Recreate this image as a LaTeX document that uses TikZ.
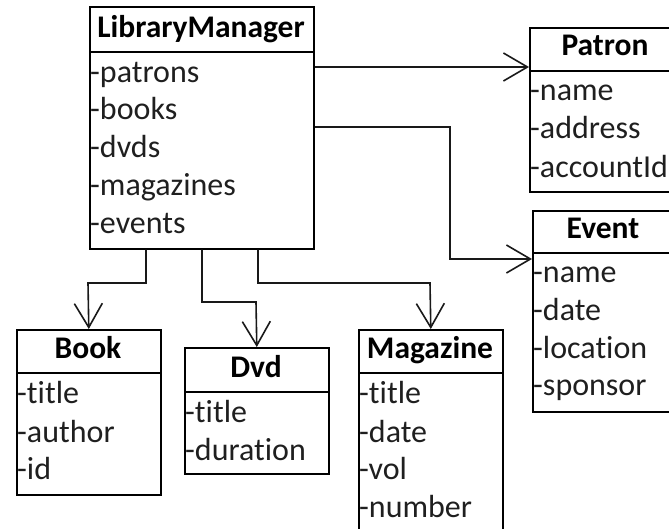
\documentclass[tikz,border=0pt]{standalone}
\usepackage{fontspec}
\setmainfont{Carlito}[Ligatures=NoCommon]
\usetikzlibrary{arrows.meta}

\begin{document}
\begin{tikzpicture}[x=1pt,y=-1pt,
    classbox/.style={draw=black, line width=1.6pt, inner sep=0pt, anchor=north west},
    headtext/.style={inner sep=0pt, anchor=base, font=\bfseries\fontsize{31.5}{38}\selectfont},
    attr/.style={inner sep=0pt, anchor=base west, text=black!88, font=\fontsize{32}{38}\selectfont},
    assoc/.style={draw=black!90, line width=1.6pt, -{Straight Barb[length=24pt,width=28pt,line width=1.6pt]}},
    sep/.style={draw=black, line width=1.6pt}]
  \useasboundingbox (0,0) rectangle (669,528);
  \clip (0,0) rectangle (669,528);

  % LibraryManager
  \node[classbox, minimum width=224pt, minimum height=242pt] (lm) at (89,6) {};
  \draw[sep] (lm.west |- 0,52) -- (lm.east |- 0,52);
  \node[headtext] (lmh) at (201,37) {LibraryManager};
  \node[attr] (lm1) at (90,82) {-patrons};
  \node[attr] (lm2) at (90,119.5) {-books};
  \node[attr] (lm3) at (90,157) {-dvds};
  \node[attr] (lm4) at (90,195) {-magazines};
  \node[attr] (lm5) at (90,233) {-events};

  % Patron
  \node[classbox, minimum width=152pt, minimum height=164pt] (patron) at (529,27) {};
  \draw[sep] (patron.west |- 0,71) -- (patron.east |- 0,71);
  \node[headtext] (ph) at (605,55) {Patron};
  \node[attr] (p1) at (530,100) {-name};
  \node[attr] (p2) at (530,138) {-address};
  \node[attr] (p3) at (530,177) {-accountId};

  % Event
  \node[classbox, minimum width=142pt, minimum height=201pt] (event) at (532,210) {};
  \draw[sep] (event.west |- 0,253) -- (event.east |- 0,253);
  \node[headtext] (eh) at (603,238) {Event};
  \node[attr] (e1) at (533,282) {-name};
  \node[attr] (e2) at (533,320) {-date};
  \node[attr] (e3) at (533,358) {-location};
  \node[attr] (e4) at (533,395) {-sponsor};

  % Book
  \node[classbox, minimum width=144pt, minimum height=165pt] (book) at (16,329) {};
  \draw[sep] (book.west |- 0,373) -- (book.east |- 0,373);
  \node[headtext] (bh) at (88,358) {Book};
  \node[attr] (b1) at (17,403) {-title};
  \node[attr] (b2) at (17,442) {-author};
  \node[attr] (b3) at (17,479) {-id};

  % Dvd
  \node[classbox, minimum width=144pt, minimum height=126pt] (dvd) at (184,347) {};
  \draw[sep] (dvd.west |- 0,392) -- (dvd.east |- 0,392);
  \node[headtext] (dh) at (256,377) {Dvd};
  \node[attr] (d1) at (185,422) {-title};
  \node[attr] (d2) at (185,460) {-duration};

  % Magazine
  \node[classbox, minimum width=144pt, minimum height=220pt] (mag) at (358,329) {};
  \draw[sep] (mag.west |- 0,373) -- (mag.east |- 0,373);
  \node[headtext] (mh) at (430,358) {Magazine};
  \node[attr] (m1) at (359,403) {-title};
  \node[attr] (m2) at (359,442) {-date};
  \node[attr] (m3) at (359,479) {-vol};
  \node[attr] (m4) at (359,517) {-number};

  % Associations
  \draw[assoc] (lm.east |- 0,67) -- (patron.west |- 0,67);
  \draw[assoc] (lm.east |- 0,127) -| (450,259) -- (event.west |- 0,259);
  \draw[assoc] (lm.south -| 146,0) |- (88,283) -- (book.north);
  \draw[assoc] (lm.south -| 202,0) |- (256,302) -- (dvd.north);
  \draw[assoc] (lm.south -| 258,0) |- (430,283) -- (mag.north);
\end{tikzpicture}
\end{document}
